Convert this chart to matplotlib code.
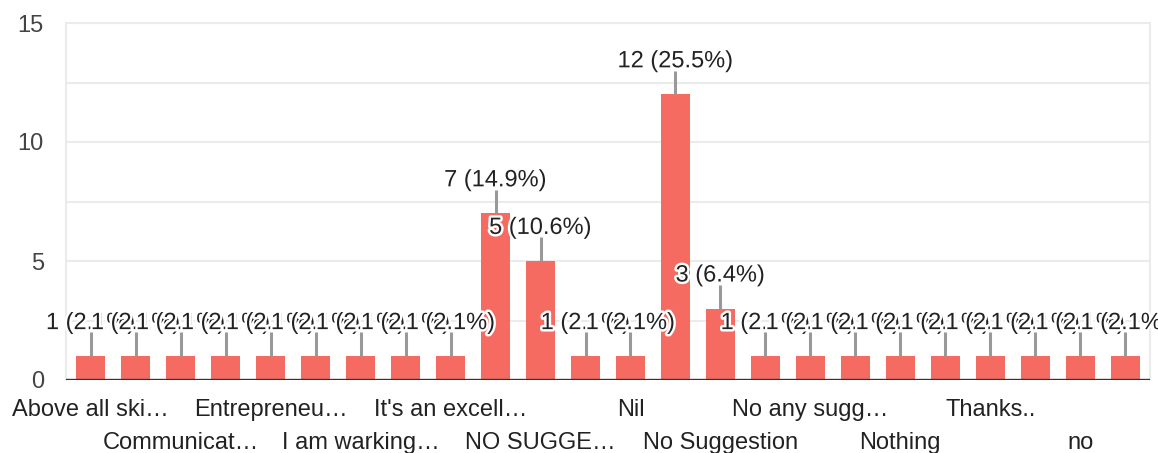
import matplotlib.pyplot as plt
import matplotlib.patheffects as pe
import numpy as np

plt.rcParams.update({
    "font.family": ["Liberation Sans", "DejaVu Sans"],
    "font.size": 17,
})

bar_red = "#f56b62"
grid_grey = "#ebebeb"
text_dark = "#222222"

# answers in the order the form shows them (hidden labels left blank)
categories = [
    "Above all ski…", "", "Communicat…", "", "Entrepreneu…", "",
    "I am warking…", "", "It's an excell…", "", "NO SUGGE…", "",
    "Nil", "", "No Suggestion", "", "No any sugg…", "",
    "Nothing", "", "Thanks..", "", "no", "",
]
counts = [1, 1, 1, 1, 1, 1, 1, 1, 1, 7, 5, 1,
          1, 12, 3, 1, 1, 1, 1, 1, 1, 1, 1, 1]
y_ticks = [0, 5, 10, 15]

total = sum(counts)
x = np.arange(len(counts))

fig = plt.figure(figsize=(11.58, 4.53), dpi=100)
ax = fig.add_axes([66 / 1158, 73 / 453, 1084 / 1158, 357 / 453])

ax.bar(x, counts, width=0.64, color=bar_red, zorder=2)
ax.set_xlim(-0.55, len(counts) - 0.45)
ax.set_ylim(0, 15)

ax.set_yticks(y_ticks)
ax.set_yticks(np.arange(0, 15.1, 2.5), minor=True)
ax.grid(axis="y", which="both", color=grid_grey, lw=1.5, zorder=0)
ax.axhline(0, color="#333333", lw=2.4, zorder=3)

for side in ("left", "right", "top"):
    ax.spines[side].set_color(grid_grey)
    ax.spines[side].set_linewidth(1.5)
ax.spines["bottom"].set_visible(False)

ax.tick_params(axis="both", which="both", length=0)
ax.tick_params(axis="y", labelcolor="#444444", pad=16)

# two staggered rows of category labels
xlabels = []
for i, name in enumerate(categories):
    if name and (i // 2) % 2 == 1:
        xlabels.append("\n" + name)
    else:
        xlabels.append(name)
ax.set_xticks(x, xlabels)
ax.tick_params(axis="x", labelcolor=text_dark, pad=14)
for lab in ax.get_xticklabels():
    lab.set_linespacing(1.6)
    lab.set_verticalalignment("top")

# leaders + value labels with white halo, drawn left to right
ax.vlines(x, counts, np.array(counts) + 1.0, color="#999999", lw=2.2, zorder=3)
for xi, c in zip(x, counts):
    ax.annotate(f"{c} ({c / total * 100:.1f}%)", xy=(xi, c), xytext=(0, 19.5),
                textcoords="offset points", ha="center", va="baseline",
                color=text_dark, zorder=4,
                path_effects=[pe.withStroke(linewidth=3.5, foreground="white")])

fig.savefig("out.png", dpi=100)
